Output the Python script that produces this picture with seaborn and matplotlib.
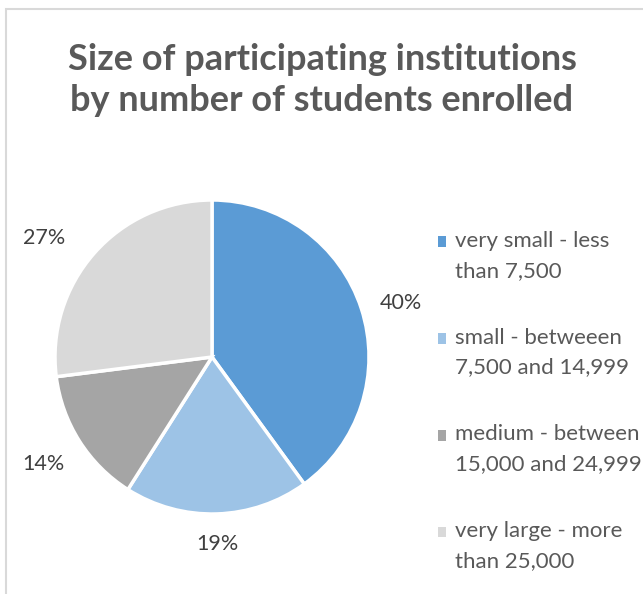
import matplotlib
matplotlib.use("Agg")
import matplotlib.pyplot as plt
from matplotlib.patches import Rectangle, Patch
from matplotlib.legend_handler import HandlerPatch
import seaborn as sns
import numpy as np

categories = [
    "very small - less\nthan 7,500",
    "small - betweeen\n7,500 and 14,999",
    "medium - between\n15,000 and 24,999",
    "very large - more\nthan 25,000",
]
shares = [40, 19, 14, 27]
colors = ["#5B9BD5", "#9DC3E6", "#A5A5A5", "#D9D9D9"]
title = "Size of participating institutions\nby number of students enrolled"

sns.set_theme(style="white")
plt.rcParams["font.family"] = ["Lato", "DejaVu Sans"]

W, H = 643, 594
fig = plt.figure(figsize=(W / 100, H / 100), dpi=100)

# chart frame (light grey border running off the right and bottom edges)
fig.patches.append(Rectangle((6 / W, -0.1), 1.2, (H - 9) / H + 0.1,
                             transform=fig.transFigure, fill=False,
                             edgecolor="#D9D9D9", linewidth=1.5))

cx, cy, r = 212, 357, 157
ax = fig.add_axes([(cx - r) / W, (H - cy - r) / H, 2 * r / W, 2 * r / H])
wedges, _ = ax.pie(shares, colors=sns.color_palette(colors), startangle=90,
                   counterclock=False, radius=1,
                   wedgeprops=dict(edgecolor="white", linewidth=2.5))
ax.set_xlim(-1, 1)
ax.set_ylim(-1, 1)
ax.set_aspect("equal")
ax.axis("off")

# data labels placed outside each wedge (distance, angle offset in degrees)
label_place = [(1.25, -2), (1.19, 0), (1.27, 0), (1.31, 6)]
for w, val, (dist, dang) in zip(wedges, shares, label_place):
    ang = np.deg2rad((w.theta1 + w.theta2) / 2 + dang)
    ax.text(dist * np.cos(ang), dist * np.sin(ang), f"{val}%",
            ha="center", va="center", fontsize=15.5, color="#404040",
            clip_on=False)

fig.text(322 / W, 1 - 80 / H, title, ha="center", va="center",
         fontsize=26, fontweight="bold", color="#595959", linespacing=1.28)


# legend squares sit beside the first line of each two-line label
def top_square(legend, orig_handle, xdescent, ydescent, width, height, fontsize):
    return Rectangle((-xdescent, -ydescent + 10.1), width, height)


handles = [Patch(facecolor=c, edgecolor="none") for c in colors]
leg = fig.legend(handles, categories, loc="upper left",
                 bbox_to_anchor=(438 / W, 1 - 231 / H), frameon=False,
                 fontsize=16, labelcolor="#595959", handlelength=0.36,
                 handleheight=0.36, handletextpad=0.42, labelspacing=2.12,
                 borderaxespad=0, borderpad=0,
                 handler_map={Patch: HandlerPatch(patch_func=top_square)})
for t in leg.get_texts():
    t.set_linespacing(1.6)

fig.savefig("out.png", dpi=100, facecolor="white")
